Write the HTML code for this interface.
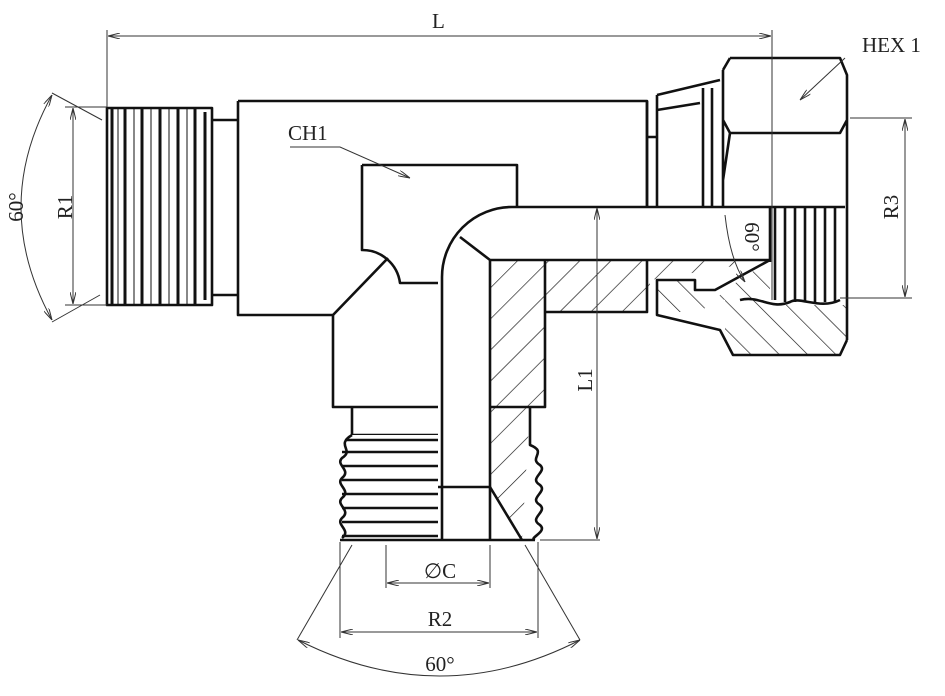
<!DOCTYPE html>
<html><head><style>body{margin:0;background:#fff}svg{display:block}text{font-family:"Liberation Serif",serif;fill:#222}</style></head><body>
<svg width="945" height="696" viewBox="0 0 945 696" xmlns="http://www.w3.org/2000/svg">
<defs>
<pattern id="h1" width="22" height="22" patternUnits="userSpaceOnUse" patternTransform="rotate(45)"><line x1="0" y1="0" x2="0" y2="22" stroke="#111" stroke-width="1.3"/></pattern>
<pattern id="h2" width="20" height="20" patternUnits="userSpaceOnUse" patternTransform="rotate(-45)"><line x1="0" y1="0" x2="0" y2="20" stroke="#111" stroke-width="1.3"/></pattern>
<marker id="a" markerWidth="12" markerHeight="6" refX="12" refY="3" orient="auto-start-reverse" markerUnits="userSpaceOnUse"><path d="M0,0 L12,3 L0,6" fill="none" stroke="#333" stroke-width="1"/></marker>
</defs>
<g fill="none" stroke="#111" stroke-width="2.6" stroke-linejoin="round">
<!-- left thread -->
<rect x="107" y="108" width="105" height="197" fill="#fff"/>
<g stroke-width="3">
<line x1="112" y1="108" x2="112" y2="305"/><line x1="125" y1="108" x2="125" y2="305"/><line x1="142" y1="108" x2="142" y2="305"/><line x1="160" y1="108" x2="160" y2="305"/><line x1="178" y1="108" x2="178" y2="305"/><line x1="195" y1="108" x2="195" y2="305"/><line x1="205" y1="112" x2="205" y2="300"/>
</g>
<g stroke-width="1"><line x1="118" y1="108" x2="118" y2="305"/><line x1="134" y1="108" x2="134" y2="305"/><line x1="151" y1="108" x2="151" y2="305"/><line x1="169" y1="108" x2="169" y2="305"/><line x1="187" y1="108" x2="187" y2="305"/></g>
<path d="M212,120 H238 M212,295 H238"/>
<!-- main body -->
<path d="M238,101 H647 V207 M238,101 V315 H333 L388,258"/>
<path d="M647,137 H657 M647,101 V207"/>
<!-- CH1 pocket -->
<path d="M362,165 H517 V207 M362,165 V250 A38,38 0 0 1 400,283 H438"/>
<!-- lower body -->
<path d="M333,315 V407 H438 M490,407 H545 V260"/>
<!-- elbow -->
<path d="M512,207 H845 M512,207 A70,70 0 0 0 442,277 V540 M490,260 H770 M490,260 V540 M460,237 L490,260"/>
<!-- bottom thread -->
<path d="M352,407 V435 H438"/>
<rect x="340" y="435" width="98" height="105" fill="#fff" stroke="none"/>
<g stroke-width="2.6"><path d="M345,440 H438 M342,452 H438 M342,466 H438 M342,480 H438 M342,494 H438 M342,508 H438 M342,522 H438 M342,536 H438"/></g>
<path d="M352,435 C335,445 355,450 342,458 C335,465 352,470 342,478 C335,485 352,490 342,498 C335,505 352,510 342,518 C335,525 352,530 342,538"/>
<path d="M340,540 H535 M438,487 H490 L522,540 M530,407 V445 C548,452 528,458 540,465 C548,472 528,478 540,485 C548,492 528,498 540,505 C548,512 528,518 540,525 C548,532 528,538 535,540"/>
<!-- hatched sections -->
<path d="M490,260 H770 L650,280 V312 H545 V407 H530 L522,540 L490,487 Z" fill="url(#h1)" stroke="none"/>
<path d="M657,280 H695 V292 L725,300 V340 L727,355 H840 L847,342 V305 H770 V260 L725,290 L715,300 L700,312 H657 Z" fill="url(#h2)" stroke="none"/>
<path d="M770,260 L715,290 H695 V280 H657 V315 L720,330 L733,355 H840 L847,340"/>
<path d="M647,260 V312 H545"/>
<!-- sleeve -->
<path d="M657,95 L720,80 M657,95 V207 M657,110 L700,103 M703,88 V207 M712,88 V207"/>
<!-- nut -->
<path d="M730,58 H840 L847,75 V340 M723,70 L730,58 M723,70 V207 M723,120 L730,133 H840 L847,120 M730,133 L723,180"/>
<!-- right thread -->
<g stroke-width="2.6"><path d="M775,207 V300 M785,207 V302 M795,207 V302 M805,207 V302 M815,207 V302 M825,207 V302 M835,207 V302"/></g>
<path d="M770,207 V262 M740,300 C760,295 770,310 790,302 C800,296 820,310 840,300"/>
</g>
<!-- dimensions -->
<g stroke="#333" stroke-width="1" fill="none">
<line x1="107" y1="30" x2="107" y2="107"/><line x1="772" y1="30" x2="772" y2="300"/>
<line x1="108" y1="36" x2="771" y2="36" marker-start="url(#a)" marker-end="url(#a)"/>
<line x1="65" y1="107" x2="107" y2="107"/><line x1="65" y1="305" x2="107" y2="305"/>
<line x1="73" y1="108" x2="73" y2="304" marker-start="url(#a)" marker-end="url(#a)"/>
<line x1="52" y1="93" x2="102" y2="120"/><line x1="52" y1="322" x2="100" y2="295"/>
<path d="M52,95 Q-10,207 52,320" marker-start="url(#a)" marker-end="url(#a)"/>
<line x1="850" y1="118" x2="912" y2="118"/><line x1="840" y1="298" x2="912" y2="298"/>
<line x1="905" y1="119" x2="905" y2="297" marker-start="url(#a)" marker-end="url(#a)"/>
<line x1="597" y1="208" x2="597" y2="539" marker-start="url(#a)" marker-end="url(#a)"/>
<line x1="540" y1="540" x2="600" y2="540"/>
<line x1="386" y1="545" x2="386" y2="588"/><line x1="490" y1="545" x2="490" y2="588"/>
<line x1="387" y1="583" x2="489" y2="583" marker-start="url(#a)" marker-end="url(#a)"/>
<line x1="340" y1="542" x2="340" y2="638"/><line x1="538" y1="542" x2="538" y2="638"/>
<line x1="341" y1="632" x2="537" y2="632" marker-start="url(#a)" marker-end="url(#a)"/>
<line x1="352" y1="545" x2="297" y2="640"/><line x1="525" y1="545" x2="580" y2="640"/>
<path d="M298,640 Q440,712 580,640" marker-start="url(#a)" marker-end="url(#a)"/>
<path d="M725,215 Q730,260 745,282" marker-end="url(#a)"/>
<path d="M845,58 L800,100" marker-end="url(#a)"/>
<path d="M290,147 H340 L410,178" marker-end="url(#a)"/>
</g>
<g font-size="21">
<text x="432" y="28">L</text>
<text x="862" y="52">HEX 1</text>
<text x="288" y="140">CH1</text>
<text transform="translate(72,207) rotate(-90)" text-anchor="middle">R1</text>
<text transform="translate(23,207) rotate(-90)" text-anchor="middle">60°</text>
<text transform="translate(898,207) rotate(-90)" text-anchor="middle">R3</text>
<text transform="translate(592,380) rotate(-90)" text-anchor="middle">L1</text>
<text transform="translate(745,237) rotate(90)" text-anchor="middle">60°</text>
<text x="440" y="578" text-anchor="middle">∅C</text>
<text x="440" y="626" text-anchor="middle">R2</text>
<text x="440" y="671" text-anchor="middle">60°</text>
</g>
</svg>
</body></html>
